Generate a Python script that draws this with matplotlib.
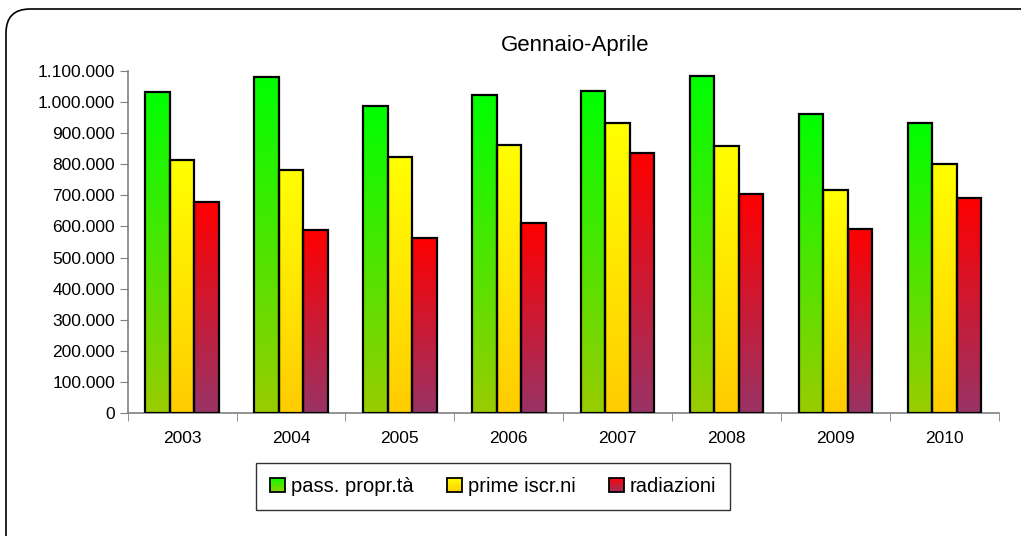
import numpy as np
import matplotlib
matplotlib.use("Agg")
from matplotlib import pyplot as plt
from matplotlib.patches import Rectangle, FancyBboxPatch
from matplotlib.legend_handler import HandlerBase
from matplotlib.colors import to_rgb
from matplotlib.ticker import FuncFormatter, FixedLocator
from matplotlib.transforms import IdentityTransform

plt.rcParams["font.family"] = ["Liberation Sans", "DejaVu Sans"]

years = ["2003", "2004", "2005", "2006", "2007", "2008", "2009", "2010"]
pass_propr = [1032000, 1081000, 986000, 1021000, 1034000, 1083000, 961000, 932000]
prime_iscr = [814000, 782000, 824000, 863000, 931000, 857000, 718000, 800000]
radiazioni = [679000, 588000, 562000, 610000, 835000, 704000, 591000, 692000]

series = [
    ("pass. propr.tà", pass_propr, "#00ff00", "#99cc00"),
    ("prime iscr.ni", prime_iscr, "#ffff00", "#ffcc00"),
    ("radiazioni", radiazioni, "#ff0000", "#993366"),
]


def gradient(top, bottom, n=128):
    t = np.linspace(0, 1, n)[:, None]
    a = np.array(to_rgb(bottom))
    b = np.array(to_rgb(top))
    return (a + (b - a) * t)[:, None, :].reshape(n, 1, 3)


class GradientHandler(HandlerBase):
    def __init__(self, top, bottom):
        super().__init__()
        self.top = top
        self.bottom = bottom

    def create_artists(self, legend, orig_handle, xdescent, ydescent,
                       width, height, fontsize, trans):
        s = height * 1.0
        x0 = -xdescent + (width - s) / 2
        y0 = -ydescent + (height - s) / 2
        arts = []
        n = 8
        a = np.array(to_rgb(self.bottom))
        b = np.array(to_rgb(self.top))
        for i in range(n):
            c = a + (b - a) * (i + 0.5) / n
            arts.append(Rectangle((x0, y0 + s * i / n), s, s / n, facecolor=c,
                                  edgecolor="none", transform=trans))
        arts.append(Rectangle((x0, y0), s, s, facecolor="none", edgecolor="black",
                              linewidth=1.3, transform=trans))
        return arts


fig = plt.figure(figsize=(10.21, 5.36), dpi=100)
ax = fig.add_axes([127.7 / 1021, 122.7 / 536, (998.7 - 127.7) / 1021, (465.3 - 122.7) / 536])

x = np.arange(len(years))
w = 0.225
handles = []
handler_map = {}
for i, (name, vals, top, bottom) in enumerate(series):
    off = (i - 1) * w
    img = gradient(top, bottom)
    for xi, v in zip(x, vals):
        ax.imshow(img, extent=(xi + off - w / 2, xi + off + w / 2, 0, v),
                  origin="lower", aspect="auto", zorder=2, interpolation="bilinear")
    bars = ax.bar(x + off, vals, width=w, facecolor="none", edgecolor="black",
                  linewidth=1.6, zorder=3, label=name)
    h = Rectangle((0, 0), 1, 1)
    handles.append(h)
    handler_map[h] = GradientHandler(top, bottom)

ax.set_xlim(-0.5, len(years) - 0.5)
ax.set_ylim(0, 1100000)
ax.set_yticks(np.arange(0, 1100001, 100000))
ax.yaxis.set_major_formatter(FuncFormatter(lambda v, p: f"{int(v):,}".replace(",", ".")))
ax.set_xticks(x)
ax.set_xticklabels(years)
ax.xaxis.set_minor_locator(FixedLocator(np.arange(-0.5, len(years), 1.0)))
ax.tick_params(axis="x", which="major", length=0, pad=13, labelsize=12.5)
ax.tick_params(axis="x", which="minor", length=6, color="#808080", direction="out")
ax.tick_params(axis="y", length=6, color="#808080", labelsize=12.5, pad=3)
for s in ["top", "right"]:
    ax.spines[s].set_visible(False)
for s in ["left", "bottom"]:
    ax.spines[s].set_color("#808080")
    ax.spines[s].set_linewidth(1.2)

fig.text(575 / 1021, 1 - 45 / 536, "Gennaio-Aprile", ha="center", va="center", fontsize=16)

leg = fig.legend(handles, [s[0] for s in series], handler_map=handler_map,
                 loc="center", bbox_to_anchor=(493 / 1021, 1 - 486.5 / 536),
                 ncol=3, fontsize=14.5, frameon=True, fancybox=False,
                 handlelength=0.75, handleheight=0.75, handletextpad=0.3,
                 columnspacing=1.65, borderpad=0.7, borderaxespad=0)
leg.get_frame().set_edgecolor("black")
leg.get_frame().set_linewidth(1.0)

frame = FancyBboxPatch((6, -40), 1080, 527 + 40, boxstyle="round,pad=0,rounding_size=24",
                       facecolor="none", edgecolor="black", linewidth=1.2,
                       transform=IdentityTransform())
fig.patches.append(frame)

fig.savefig("out.png", dpi=100)
